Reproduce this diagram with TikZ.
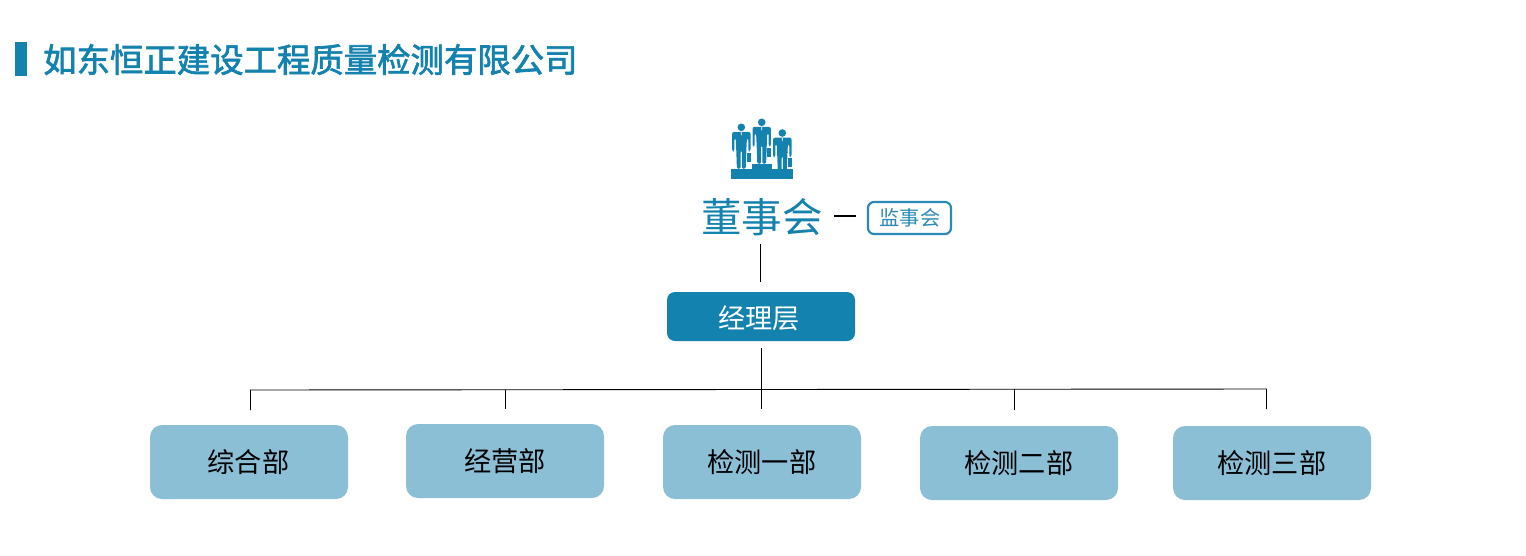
\documentclass[tikz,border=0pt]{standalone}
\usepackage{fontspec}
\setmainfont{Noto Sans CJK SC}
\newfontfamily\titlefont[FakeBold=2]{Noto Sans CJK SC}
\definecolor{teal1}{HTML}{1482AF}
\definecolor{teal2}{HTML}{2A8AB5}
\definecolor{lightb}{HTML}{8BBFD6}
\tikzset{
  x=1pt,y=-1pt,
  dept/.style={fill=lightb,rounded corners=12pt,minimum width=198pt,minimum height=74pt,inner sep=0pt,text=black},
  depttext/.style={font=\fontsize{27.2}{27}\selectfont,text=black,inner sep=0pt},
  mgr/.style={fill=teal1,rounded corners=8pt,minimum width=188pt,minimum height=49pt,inner sep=0pt},
  sup/.style={draw=teal2,line width=2.2pt,rounded corners=6pt,minimum width=83pt,minimum height=32pt,inner sep=0pt},
  link/.style={draw=black,line width=0.9pt},
  person/.pic={
    \fill[teal1] (0,0) circle (3.8);
    \fill[teal1,rounded corners=2pt] (-9.2,24) -- (-9.2,4.6) -- (9.2,4.6) -- (9.2,24) -- (7,24) -- (7,11) -- (5.6,11) -- (5,24) -- (4.4,41.5) -- (0.6,41.5) -- (0.6,23) -- (-0.6,23) -- (-0.6,41.5) -- (-4.4,41.5) -- (-5,24) -- (-5.6,11) -- (-7,11) -- (-7,24) -- cycle;
    \fill[teal1] (5.6,25.4) rectangle (9.7,34.4);
    \fill[white] (-0.5,5) -- (0.5,5) -- (0.25,8) -- (-0.25,8) -- cycle;
  }
}
\begin{document}
\begin{tikzpicture}
\useasboundingbox (0,0) rectangle (1526,555);
% title
\fill[teal1] (15,42) rectangle (27,76);
\node[anchor=west,inner sep=0pt,text=teal1,font=\fontsize{33.4}{34}\selectfont\titlefont] (title) at (43,59.5) {如东恒正建设工程质量检测有限公司};
% icon
\pic at (741.3,127.3) {person};
\pic at (761.7,122.3) {person};
\pic at (782.3,133) {person};
\fill[teal1] (730.7,169.3) rectangle (792.7,179.3);
\fill[teal1] (751.7,164) rectangle (772.3,169.5);
% nodes
\node[inner sep=0pt,text=teal1,font=\fontsize{40.5}{40}\selectfont] (board) at (762,217) {董事会};
\node[sup] (superv) at (909.5,218) {};
\node[text=teal2,inner sep=0pt,font=\fontsize{20.2}{20}\selectfont] (supervt) at (910,218) {监事会};
\node[mgr] (manager) at (761,316.5) {};
\node[text=white,inner sep=0pt,font=\fontsize{27.2}{27}\selectfont] (managert) at (759,318) {经理层};
\node[dept] (d1) at (249,462) {};
\node[dept] (d2) at (505,461) {};
\node[dept] (d3) at (762,462) {};
\node[dept] (d4) at (1019,463) {};
\node[dept] (d5) at (1272,463) {};
\node[depttext] (d1t) at (248.5,462.3) {综合部};
\node[depttext] (d2t) at (504.8,461.3) {经营部};
\node[depttext] (d3t) at (761.8,462.3) {检测一部};
\node[depttext] (d4t) at (1018.8,463.3) {检测二部};
\node[depttext] (d5t) at (1271.8,463.3) {检测三部};
% connector ends
\coordinate (bs) at (760.5,244);
\coordinate (bm) at (760.5,282);
\coordinate (ds) at (834,216);
\coordinate (de) at (856,216);
\coordinate (ms) at (761.5,348);
\coordinate (t1) at (250.5,390);
\coordinate (t2) at (505.5,389.8);
\coordinate (t3) at (761.5,389.5);
\coordinate (t4) at (1014.5,389.2);
\coordinate (t5) at (1266.5,389);
\coordinate (b1) at (250.5,410);
\coordinate (b2) at (505.5,409);
\coordinate (b3) at (761.5,409);
\coordinate (b4) at (1014.5,410);
\coordinate (b5) at (1266.5,409);
\draw[link] (bs) -- (bm);
\draw[draw=black,line width=2pt] (ds) -- (de);
\draw[link] (ms) -- (b3);
\draw[link] (b1) -- (t1) -- (t5) -- (b5);
\draw[link] (t2) -- (b2);
\draw[link] (t4) -- (b4);
\end{tikzpicture}
\end{document}
